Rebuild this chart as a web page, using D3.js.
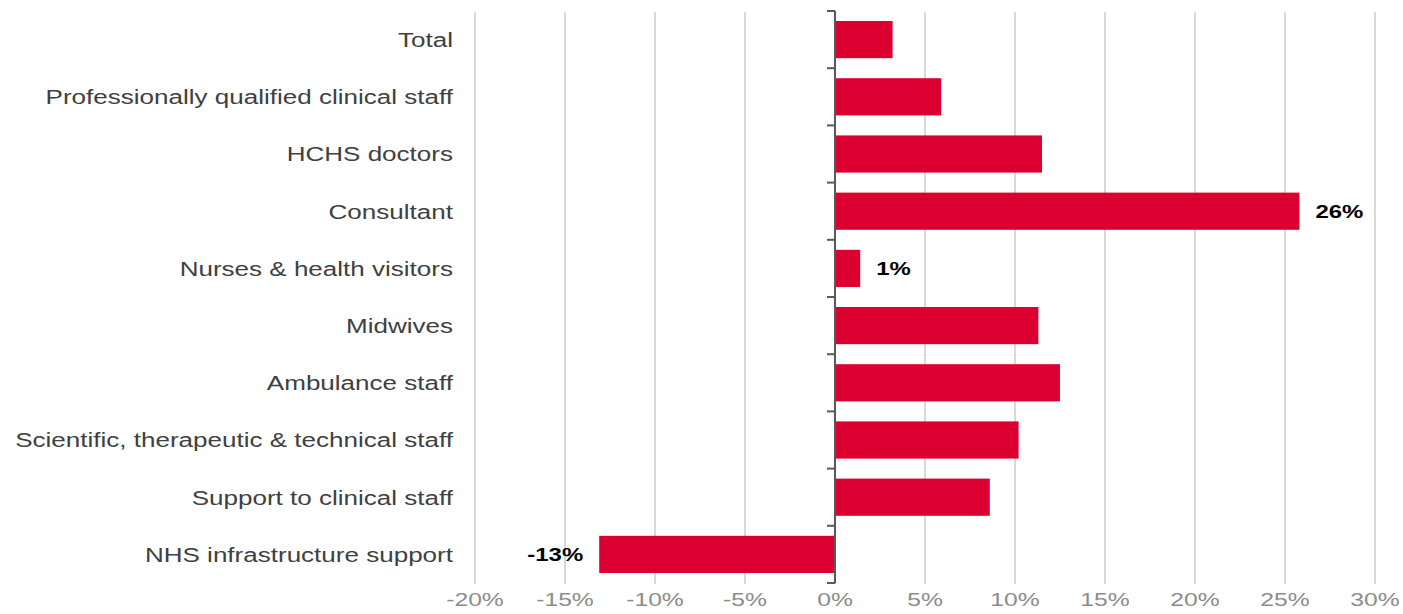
<!DOCTYPE html>
<html>
<head>
<meta charset="utf-8">
<script src="https://cdn.jsdelivr.net/npm/d3@7"></script>
<style>
  body { margin: 0; background: #fff; }
  svg text { font-family: "Liberation Sans", Arial, sans-serif; }
</style>
</head>
<body>
<div id="chart"></div>
<script>
// staff groups, top to bottom
const categories = [
    'Total',
    'Professionally qualified clinical staff',
    'HCHS doctors',
    'Consultant',
    'Nurses & health visitors',
    'Midwives',
    'Ambulance staff',
    'Scientific, therapeutic & technical staff',
    'Support to clinical staff',
    'NHS infrastructure support'
];
// % change
const values = [3.2, 5.9, 11.5, 25.8, 1.4, 11.3, 12.5, 10.2, 8.6, -13.1];
// only some bars carry a label
const valueLabels = ['', '', '', '26%', '1%', '', '', '', '', '-13%'];
const xTicks = [-20, -15, -10, -5, 0, 5, 10, 15, 20, 25, 30];

function drawChart() {
    const width = 1403;
    const height = 614;

    const svg = d3.select('#chart').append('svg')
        .attr('width', width)
        .attr('height', height);

    const x = d3.scaleLinear()
        .domain([-20, 30])
        .range([475, 1375]);

    const y = d3.scaleBand()
        .domain(categories)
        .range([11, 583])
        .paddingInner(0.35)
        .paddingOuter(0.175);

    // the source picture is stretched sideways, so text is too
    const stretch = (px, py, s) => `translate(${px},${py}) scale(${s},1)`;

    // vertical gridlines
    svg.append('g')
        .selectAll('line')
        .data(xTicks)
        .enter()
        .append('line')
        .attr('x1', d => x(d))
        .attr('x2', d => x(d))
        .attr('y1', 12)
        .attr('y2', 584)
        .attr('stroke', '#d9d9d9')
        .attr('stroke-width', 2);

    // x tick labels
    svg.append('g')
        .selectAll('text')
        .data(xTicks)
        .enter()
        .append('text')
        .attr('transform', d => stretch(x(d), 606, 1.3))
        .attr('text-anchor', 'middle')
        .attr('fill', '#8c8c8c')
        .attr('font-size', '19px')
        .text(d => d + '%');

    // bars
    svg.append('g')
        .selectAll('rect')
        .data(values)
        .enter()
        .append('rect')
        .attr('x', d => x(Math.min(0, d)))
        .attr('y', (d, i) => y(categories[i]))
        .attr('width', d => Math.abs(x(d) - x(0)))
        .attr('height', y.bandwidth())
        .attr('fill', '#dc0030');

    // zero axis with ticks between categories
    const axis = svg.append('g');
    axis.append('line')
        .attr('x1', x(0)).attr('x2', x(0))
        .attr('y1', 11).attr('y2', 583)
        .attr('stroke', '#595959')
        .attr('stroke-width', 2);

    const step = y.step();
    const boundaries = d3.range(categories.length + 1).map(i => 11 + i * step);
    axis.selectAll('.tick')
        .data(boundaries)
        .enter()
        .append('line')
        .attr('x1', x(0) - 8).attr('x2', x(0))
        .attr('y1', d => d).attr('y2', d => d)
        .attr('stroke', '#595959')
        .attr('stroke-width', 2);

    // category labels
    svg.append('g')
        .selectAll('text')
        .data(categories)
        .enter()
        .append('text')
        .attr('transform', d => stretch(453, y(d) + y.bandwidth() / 2, 1.24))
        .attr('dy', '0.35em')
        .attr('text-anchor', 'end')
        .attr('fill', '#404040')
        .attr('font-size', '21px')
        .text(d => d);

    // value labels
    svg.append('g')
        .selectAll('text')
        .data(values)
        .enter()
        .append('text')
        .attr('transform', (d, i) => stretch(d < 0 ? x(d) - 16 : x(d) + 16,
            y(categories[i]) + y.bandwidth() / 2, 1.26))
        .attr('dy', '0.35em')
        .attr('text-anchor', d => d < 0 ? 'end' : 'start')
        .attr('fill', '#000')
        .attr('font-size', '19px')
        .attr('font-weight', 'bold')
        .text((d, i) => valueLabels[i]);
}

drawChart();
</script>
</body>
</html>
